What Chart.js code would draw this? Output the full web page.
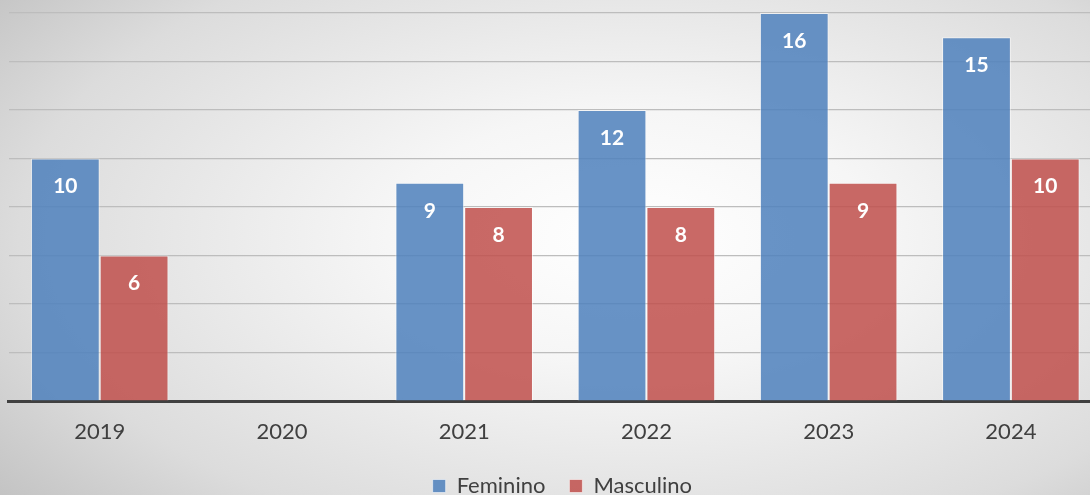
<!DOCTYPE html>
<html><head><meta charset="utf-8">
<script src="https://cdn.jsdelivr.net/npm/chart.js@4.4.1/dist/chart.umd.min.js"></script>
<style>
html,body{margin:0;padding:0;width:1090px;height:495px;overflow:hidden;
background: radial-gradient(ellipse 75% 85% at 58% 48%, #ffffff 0%, #f6f6f6 30%, #dcdcdc 75%, #c2c2c2 100%);}
#wrap{position:absolute;left:0;top:0;width:1102px;height:507px;}
</style></head><body><div id="wrap"><canvas id="c"></canvas></div>
<script>
const categories = ['2019','2020','2021','2022','2023','2024'];
const feminino = [10, null, 9, 12, 16, 15];
const masculino = [6, null, 8, 8, 9, 10];
const seriesNames = ['Feminino','Masculino'];
const FONT = 'Lato, "Open Sans", sans-serif';

const valueLabels = {
  id: 'valueLabels',
  afterDatasetsDraw(chart) {
    const ctx = chart.ctx;
    ctx.save();
    ctx.font = 'bold 21px ' + FONT;
    ctx.fillStyle = '#ffffff';
    ctx.textAlign = 'center';
    ctx.textBaseline = 'middle';
    chart.data.datasets.forEach((ds, i) => {
      const meta = chart.getDatasetMeta(i);
      meta.data.forEach((el, j) => {
        const v = ds.data[j];
        if (v === null || v === undefined) return;
        ctx.fillText(String(v), el.x, el.y + 28);
      });
    });
    ctx.restore();
  }
};
const shiftLegend = {
  id: 'shiftLegend',
  afterLayout(chart) {
    const l = chart.legend;
    if (l) { l.left += 7; l.right += 7; }
  }
};

new Chart(document.getElementById('c'), {
  type: 'bar',
  data: {
    labels: categories,
    datasets: [
      { label: seriesNames[0], data: feminino, backgroundColor: 'rgba(79,129,189,0.86)', borderColor: 'rgba(255,255,255,0.55)', borderWidth: 1 },
      { label: seriesNames[1], data: masculino, backgroundColor: 'rgba(192,80,77,0.86)', borderColor: 'rgba(255,255,255,0.55)', borderWidth: 1 }
    ]
  },
  options: {
    responsive: true,
    maintainAspectRatio: false,
    animation: false,
    devicePixelRatio: 1,
    datasets: { bar: { categoryPercentage: 0.755, barPercentage: 1 } },
    layout: { padding: { left: 8.6, right: 0, top: 13, bottom: 0 } },
    scales: {
      x: {
        grid: { display: false },
        border: { display: true, color: '#404040', width: 3 },
        ticks: { color: '#404040', font: { family: FONT, size: 22 }, padding: 10 },
        afterFit(scale) { scale.height = 50; }
      },
      y: {
        min: 0, max: 16,
        ticks: { display: false, stepSize: 2 },
        grid: { color: '#bdbdbd', lineWidth: 1.2, drawTicks: false },
        border: { display: false }
      }
    },
    plugins: {
      legend: {
        position: 'bottom',
        labels: { color: '#404040', font: { family: FONT, size: 22 }, boxWidth: 13, boxHeight: 13, padding: 24 }
      },
      tooltip: { enabled: false }
    }
  },
  plugins: [valueLabels, shiftLegend]
});
</script></body></html>
